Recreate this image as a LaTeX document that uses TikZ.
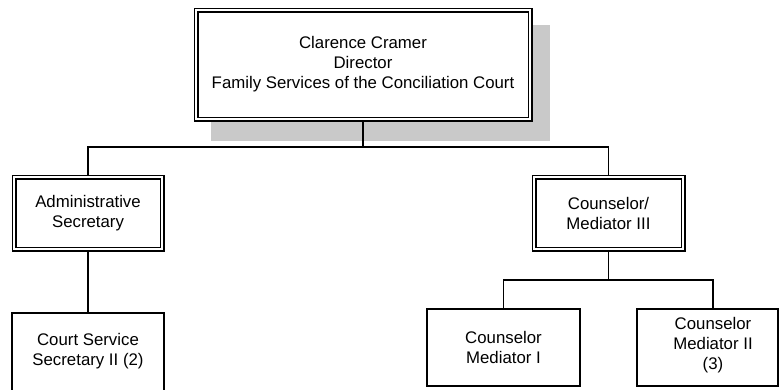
\documentclass[tikz,border=0pt]{standalone}
\usepackage{fontspec}
\setmainfont{Liberation Sans}
\usetikzlibrary{backgrounds}
\begin{document}
\begin{tikzpicture}[x=1pt,y=-1pt,
  every node/.style={font=\fontsize{16.8}{20}\selectfont, align=center, inner sep=0pt},
  dbox/.style={draw, line width=1.3pt, double, double distance=2.4pt, fill=white},
  sbox/.style={draw, line width=1.1pt, fill=white},
  conn/.style={line width=1.1pt},
  txt/.style={}]
\useasboundingbox (0,0) rectangle (779,389);
% nodes
\node[dbox, minimum width=334pt, minimum height=109pt] (dir) at (363,64.5)
  {Clarence Cramer\\Director\\Family Services of the Conciliation Court};
\node[dbox, minimum width=148pt, minimum height=72pt] (adm) at (88,213)
  {Administrative\\Secretary};
\node[dbox, minimum width=149pt, minimum height=72pt] (cm3) at (608.5,213)
  {Counselor/\\Mediator III};
\node[sbox, minimum width=152pt, minimum height=80pt] (css) at (88,353) {};
\node[txt] (csst) at (88,351) {Court Service\\Secretary II (2)};
\node[sbox, minimum width=153pt, minimum height=77pt] (cm1) at (503.5,347.5)
  {Counselor\\Mediator I};
\node[sbox, minimum width=141pt, minimum height=77pt] (cm2) at (707.5,347.5) {};
\node[txt] (cm2t) at (713,345.5) {Counselor\\Mediator II\\(3)};
\coordinate (j1) at (363,147);
\coordinate (j2) at (608.5,280);
\begin{scope}[on background layer]
  \fill[gray!42] (211,25) rectangle (550,141);
  \draw[conn] (dir.south) -- (j1);
  \draw[conn] (j1) -| (adm.north);
  \draw[conn] (j1) -| (cm3.north);
  \draw[conn] (adm.south) -- (css.north);
  \draw[conn] (cm3.south) -- (j2);
  \draw[conn] (j2) -| (cm1.north);
  \draw[conn] (j2) -| (cm2t |- cm2.north);
\end{scope}
\end{tikzpicture}
\end{document}
